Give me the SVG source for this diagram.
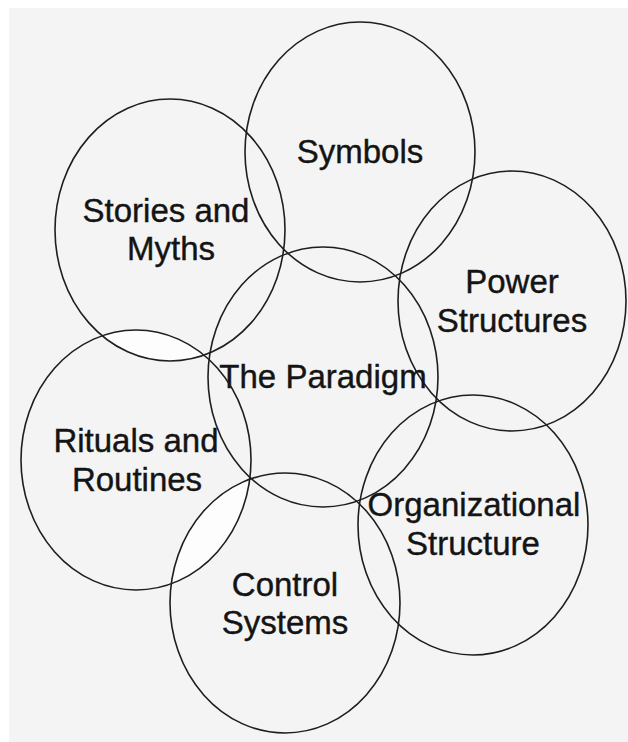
<svg xmlns="http://www.w3.org/2000/svg" width="628" height="742" viewBox="0 0 628 742">
<style>
.c{fill:none;stroke:#1e1e1e;stroke-width:1.6}
.t{font-family:"Liberation Sans",Arial,sans-serif;font-size:33px;fill:#141414;stroke:#141414;stroke-width:0.4;text-anchor:middle}
</style>
<defs>
<clipPath id="clipRit"><ellipse cx="136" cy="460" rx="115" ry="130"/></clipPath>
</defs>
<rect width="628" height="742" fill="#ffffff"/>
<rect x="9" y="8" width="619" height="734" fill="#f4f4f4"/>
<g id="lenses" clip-path="url(#clipRit)">
<ellipse cx="285" cy="603" rx="115" ry="130" fill="#ffffff" opacity="0.8"/>
<ellipse cx="170" cy="230" rx="115" ry="131" fill="#ffffff" opacity="0.8"/>
</g>
<g id="connectors"/>
<g id="symbols"><ellipse class="c" cx="360" cy="152" rx="115" ry="130"/><text class="t" x="360" y="163">Symbols</text></g>
<g id="stories"><ellipse class="c" cx="170" cy="230" rx="115" ry="131"/><text class="t" x="166" y="222">Stories and</text><text class="t" x="171" y="260">Myths</text></g>
<g id="power"><ellipse class="c" cx="512" cy="301" rx="114" ry="130"/><text class="t" x="512" y="293">Power</text><text class="t" x="512" y="332">Structures</text></g>
<g id="paradigm"><ellipse class="c" cx="323" cy="377" rx="115" ry="130"/><text class="t" x="323" y="388">The Paradigm</text></g>
<g id="rituals"><ellipse class="c" cx="136" cy="460" rx="115" ry="130"/><text class="t" x="136" y="452">Rituals and</text><text class="t" x="137" y="491">Routines</text></g>
<g id="org"><ellipse class="c" cx="473" cy="525" rx="115" ry="130"/><text class="t" x="474" y="516">Organizational</text><text class="t" x="473" y="555">Structure</text></g>
<g id="control"><ellipse class="c" cx="285" cy="603" rx="115" ry="130"/><text class="t" x="285" y="596">Control</text><text class="t" x="285" y="634">Systems</text></g>
</svg>
